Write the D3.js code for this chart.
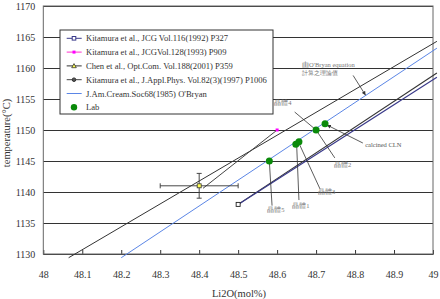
<!DOCTYPE html>
<html>
<head>
<meta charset="utf-8">
<script src="https://cdn.jsdelivr.net/npm/d3@7"></script>
<style>
  body { margin: 0; background: #fff; }
  svg { display: block; }
  text { font-family: "Liberation Serif", "DejaVu Serif", serif; }
</style>
</head>
<body>
<svg id="chart" width="440" height="299"></svg>
<script>
// ---- data ----
const xTicks = [48, 48.1, 48.2, 48.3, 48.4, 48.5, 48.6, 48.7, 48.8, 48.9, 49];
const yTicks = [1130, 1135, 1140, 1145, 1150, 1155, 1160, 1165, 1170];

const kitamura92 = [[48.5, 1138], [49.01, 1158.5]];   // JCG Vol.116
const kitamura97 = [[48.5, 1138], [49.01, 1159.2]];   // J.Appl.Phys.
const kitamura93 = [[48.6, 1150]];                    // JCG Vol.128
const chen = [[48.4, 1141]];
const chenErrX = [48.3, 48.5];
const chenErrY = [1139, 1143];
const chenFit = [[48.41, 1140.6], [48.6, 1150]];
const upperFit = [[48.065, 1129.4], [49.01, 1164.3]];
const obryan = [[48.2, 1129.4], [49.01, 1163.2]];
const lab = [[48.58, 1145], [48.648, 1147.7], [48.656, 1148.1], [48.70, 1150], [48.723, 1151]];

const legendLabels = [
  "Kitamura et al., JCG Vol.116(1992) P327",
  "Kitamura et al., JCGVol.128(1993) P909",
  "Chen et al., Opt.Com. Vol.188(2001) P359",
  "Kitamura et al., J.Appl.Phys. Vol.82(3)(1997) P1006",
  "J.Am.Cream.Soc68(1985) O'Bryan",
  "Lab"
];
const legendColors = ['#3a3a8a', '#ff33cc', '#333', '#444', '#5b86e6', null];

// crystal notes: [dot x, dot y, leader end x, leader end y, label x, label y, text]
const crystalNotes = [
  [48.58, 1145, 48.587, 1137.8, 48.597, 1136.7, "晶體5"],
  [48.65, 1147.8, 48.656, 1138.7, 48.661, 1137.5, "晶體1"],
  [48.655, 1148, 48.71, 1140.5, 48.727, 1139.6, "晶體3"],
  [48.70, 1150, 48.748, 1145.5, 48.768, 1144.1, "晶體2"],
  [48.70, 1150, 48.645, 1152.9, 48.615, 1154, "晶體4"]
];

const svg = d3.select('#chart');
const mLeft = 43.3, mRight = 433, mTop = 6, mBottom = 254;

const x = d3.scaleLinear().domain([48, 49]).range([mLeft, mRight]);
const y = d3.scaleLinear().domain([1130, 1170]).range([mBottom, mTop]);

// y axis + gridlines
const yAxis = svg.append('g')
  .attr('transform', `translate(${mLeft},0)`)
  .call(d3.axisLeft(y).tickValues(yTicks).tickFormat(d3.format('d'))
    .tickSize(-(mRight - mLeft)).tickPadding(8));
yAxis.select('.domain').remove();
yAxis.selectAll('line').attr('stroke', '#333');
yAxis.selectAll('text').attr('font-size', 10).attr('fill', '#333')
  .attr('font-family', '"Liberation Serif", serif');

// x axis with inner ticks
const xAxis = svg.append('g')
  .attr('transform', `translate(0,${mBottom})`)
  .call(d3.axisBottom(x).tickValues(xTicks).tickFormat(d => String(d))
    .tickSizeInner(-4).tickSizeOuter(0).tickPadding(16.5));
xAxis.select('.domain').attr('stroke', '#333');
xAxis.selectAll('line').attr('stroke', '#333');
xAxis.selectAll('text').attr('font-size', 10).attr('fill', '#333')
  .attr('font-family', '"Liberation Serif", serif');

// frame
svg.append('rect')
  .attr('x', mLeft).attr('y', mTop)
  .attr('width', mRight - mLeft).attr('height', mBottom - mTop)
  .attr('fill', 'none').attr('stroke', '#666').attr('stroke-width', 1);

// axis titles
svg.append('text')
  .attr('x', 239).attr('y', 297)
  .attr('text-anchor', 'middle').attr('font-size', 10.5).attr('fill', '#333')
  .text('Li2O(mol%)');
svg.append('text')
  .attr('transform', 'translate(10,133) rotate(-90)')
  .attr('text-anchor', 'middle').attr('font-size', 10.5).attr('fill', '#333')
  .text('temperature(°C)');

// lines
const line = d3.line().x(d => x(d[0])).y(d => y(d[1]));
const drawLine = (pts, color, w) => svg.append('path')
  .attr('d', line(pts)).attr('fill', 'none')
  .attr('stroke', color).attr('stroke-width', w);

drawLine(upperFit, '#333', 1);
drawLine(chenFit, '#444', 1);
drawLine(obryan, '#5b86e6', 1);
drawLine(kitamura97, '#333', 1.1);
drawLine(kitamura92, '#3a3a8a', 1.2);

// leader lines and arrows
const defs = svg.append('defs');
defs.append('marker')
  .attr('id', 'arrow').attr('viewBox', '0 0 6 6')
  .attr('refX', 6).attr('refY', 3)
  .attr('markerWidth', 5).attr('markerHeight', 5)
  .attr('orient', 'auto')
  .append('path').attr('d', 'M0,0 L6,3 L0,6 Z').attr('fill', '#333');

svg.selectAll('line.note')
  .data(crystalNotes)
  .join('line')
  .attr('class', 'note')
  .attr('x1', d => x(d[2])).attr('y1', d => y(d[3]))
  .attr('x2', d => x(d[0])).attr('y2', d => y(d[1]))
  .attr('stroke', '#333').attr('stroke-width', 0.8);

svg.selectAll('text.note')
  .data(crystalNotes)
  .join('text')
  .attr('class', 'note')
  .attr('x', d => x(d[4])).attr('y', d => y(d[5]))
  .attr('text-anchor', 'middle')
  .attr('font-size', 6.5).attr('fill', '#777')
  .attr('font-family', '"Noto Sans CJK TC", sans-serif')
  .text(d => d[6]);

// O'Bryan note
svg.append('line')
  .attr('x1', x(48.795)).attr('y1', y(1158.8))
  .attr('x2', x(48.827)).attr('y2', y(1155.6))
  .attr('stroke', '#333').attr('stroke-width', 0.8)
  .attr('marker-end', 'url(#arrow)');
svg.append('text')
  .attr('x', x(48.664)).attr('y', y(1160.2))
  .attr('font-size', 6.5).attr('fill', '#777')
  .text("由O'Bryan equation");
svg.append('text')
  .attr('x', x(48.664)).attr('y', y(1158.9))
  .attr('font-size', 6).attr('fill', '#777')
  .attr('font-family', '"Noto Sans CJK TC", sans-serif')
  .text("計算之理論值");

// calcined CLN note
svg.append('line')
  .attr('x1', x(48.82)).attr('y1', y(1147.9))
  .attr('x2', x(48.728)).attr('y2', y(1150.8))
  .attr('stroke', '#333').attr('stroke-width', 0.8)
  .attr('marker-end', 'url(#arrow)');
svg.append('text')
  .attr('x', x(48.826)).attr('y', y(1147.2))
  .attr('font-size', 6.5).attr('fill', '#555')
  .text('calcined CLN');

// Chen error bars
const cx = x(chen[0][0]), cy = y(chen[0][1]);
const eb = svg.append('g').attr('stroke', '#333').attr('stroke-width', 0.9);
eb.append('line').attr('x1', x(chenErrX[0])).attr('x2', x(chenErrX[1])).attr('y1', cy).attr('y2', cy);
eb.append('line').attr('x1', cx).attr('x2', cx).attr('y1', y(chenErrY[0])).attr('y2', y(chenErrY[1]));
chenErrX.forEach(v => eb.append('line').attr('x1', x(v)).attr('x2', x(v)).attr('y1', cy - 2.5).attr('y2', cy + 2.5));
chenErrY.forEach(v => eb.append('line').attr('x1', cx - 2.5).attr('x2', cx + 2.5).attr('y1', y(v)).attr('y2', y(v)));

// markers
svg.selectAll('rect.chen').data(chen).join('rect')
  .attr('x', d => x(d[0]) - 2).attr('y', d => y(d[1]) - 2)
  .attr('width', 4).attr('height', 4)
  .attr('fill', '#ffff55').attr('stroke', '#333').attr('stroke-width', 0.8);
svg.selectAll('rect.k92').data(kitamura92.slice(0, 1)).join('rect')
  .attr('x', d => x(d[0]) - 2).attr('y', d => y(d[1]) - 2)
  .attr('width', 4).attr('height', 4)
  .attr('fill', '#fff').attr('stroke', '#222').attr('stroke-width', 0.9);
svg.selectAll('rect.k93').data(kitamura93).join('rect')
  .attr('x', d => x(d[0]) - 1.5).attr('y', d => y(d[1]) - 1.5)
  .attr('width', 3).attr('height', 3)
  .attr('fill', '#ff00ff');
svg.selectAll('circle.lab').data(lab).join('circle')
  .attr('cx', d => x(d[0])).attr('cy', d => y(d[1]))
  .attr('r', 3.5).attr('fill', '#0a8a0a');

// legend
const lg = svg.append('g');
lg.append('rect').attr('x', 60).attr('y', 30).attr('width', 213).attr('height', 84)
  .attr('fill', '#fff').attr('stroke', '#333').attr('stroke-width', 1);
const rows = lg.selectAll('g.row')
  .data(legendLabels.map((label, i) => ({ label, color: legendColors[i], i })))
  .join('g')
  .attr('transform', d => `translate(0,${38.3 + d.i * 13.8})`);
rows.filter(d => d.color)
  .append('line').attr('x1', 66.7).attr('x2', 81.7)
  .attr('stroke', d => d.color).attr('stroke-width', 1);
rows.append('text').attr('x', 86).attr('y', 3)
  .attr('font-size', 8.6).attr('fill', '#333')
  .text(d => d.label);
const mk = (i) => rows.filter(d => d.i === i);
mk(0).append('rect').attr('x', 72.2).attr('y', -1.8).attr('width', 3.6).attr('height', 3.6)
  .attr('fill', '#fff').attr('stroke', '#3a3a8a');
mk(1).append('rect').attr('x', 72.5).attr('y', -1.5).attr('width', 3).attr('height', 3)
  .attr('fill', '#ff00ff');
mk(2).append('path').attr('d', 'M74,-2.3 L76.3,1.8 L71.7,1.8 Z')
  .attr('fill', '#ffff55').attr('stroke', '#333').attr('stroke-width', 0.8);
mk(3).append('circle').attr('cx', 74).attr('cy', 0).attr('r', 1.8)
  .attr('fill', '#555').attr('stroke', '#333');
mk(5).append('circle').attr('cx', 74).attr('cy', 0).attr('r', 3.2)
  .attr('fill', '#0a8a0a');
</script>
</body>
</html>
